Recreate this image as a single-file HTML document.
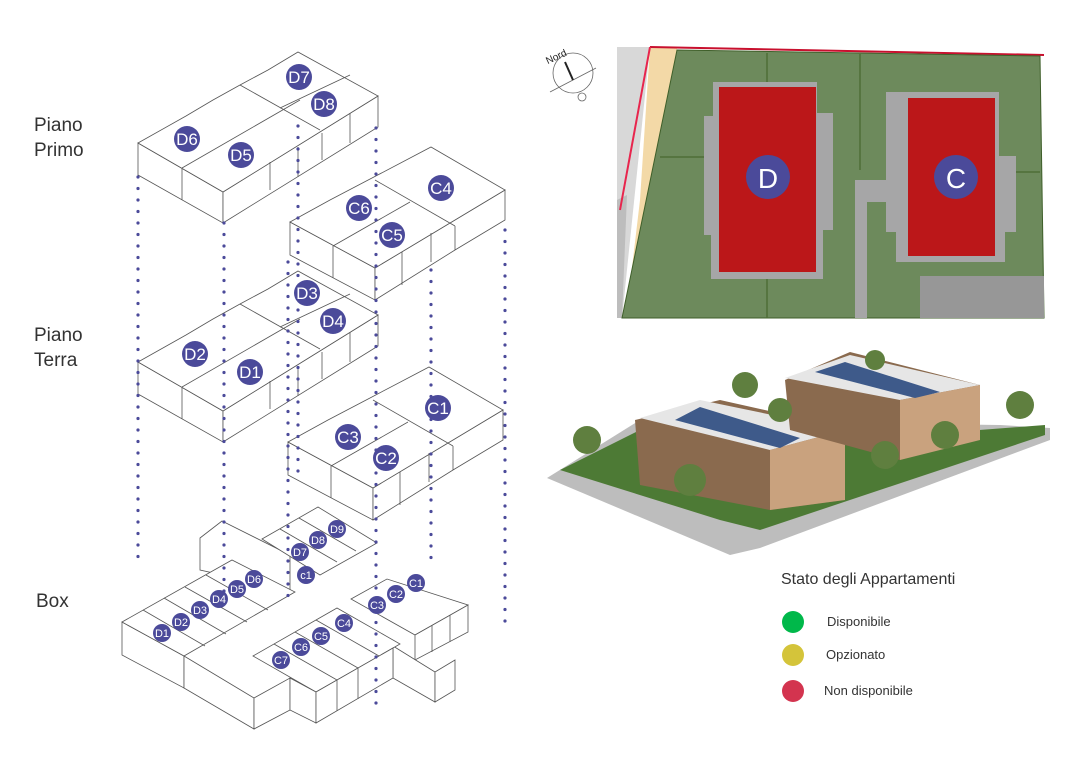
<!DOCTYPE html>
<html><head><meta charset="utf-8"><style>
html,body{margin:0;padding:0;background:#fff;width:1076px;height:780px;overflow:hidden}
svg{display:block}
text{font-family:"Liberation Sans",sans-serif}
</style></head><body>
<svg width="1076" height="780" viewBox="0 0 1076 780" xmlns="http://www.w3.org/2000/svg">
<defs>
<g id="dblock" fill="#fff" stroke="#555" stroke-width="0.8">
  <polygon points="138,143 223,192 223,223 138,175"/>
  <polygon points="223,192 378,96 378,127 223,223"/>
  <polygon points="138,143 186,116 213,100 240,85 268,70 298,52 378,96 223,192"/>
  <line x1="182" y1="168" x2="182" y2="200"/>
  <line x1="182" y1="168" x2="300" y2="100"/>
  <line x1="240" y1="85" x2="320" y2="130"/>
  <line x1="280" y1="108" x2="350" y2="75"/>
  <line x1="350" y1="113" x2="350" y2="143" />
  <line x1="270" y1="162" x2="270" y2="190"/>
  <line x1="298" y1="147" x2="298" y2="177"/>
  <line x1="322" y1="133" x2="322" y2="160"/>
</g>
<g id="cblock" fill="#fff" stroke="#555" stroke-width="0.8">
  <polygon points="290,222 375,268 375,300 290,255"/>
  <polygon points="375,268 505,190 505,220 455,250 375,300"/>
  <polygon points="290,222 330,200 372,178 431,147 505,190 375,268"/>
  <line x1="333" y1="246" x2="333" y2="278"/>
  <line x1="333" y1="246" x2="410" y2="202"/>
  <line x1="375" y1="180" x2="455" y2="226"/>
  <line x1="431" y1="233" x2="431" y2="262"/>
  <line x1="455" y1="226" x2="455" y2="250"/>
  <line x1="402" y1="252" x2="402" y2="285"/>
</g>
</defs>
<use href="#dblock"/>
<use href="#cblock"/>
<use href="#dblock" transform="translate(0,219)"/>
<use href="#cblock" transform="translate(-2,220)"/>
<g fill="#fff" stroke="#555" stroke-width="0.8">
  <polygon points="200,538 222,521 290,555 290,590 200,570"/>
  <polygon points="262,539 318,507 377,543 320,575"/>
  <polygon points="122,622 184,656 184,688 122,655"/>
  <polygon points="184,656 254,698 254,729 184,688"/>
  <polygon points="254,698 290,678 290,710 254,729"/>
  <polygon points="122,622 232,560 295,592 184,656"/>
  <line x1="143" y1="610" x2="205" y2="646"/>
  <line x1="164" y1="598" x2="226" y2="634"/>
  <line x1="185" y1="587" x2="247" y2="622"/>
  <line x1="206" y1="575" x2="268" y2="610"/>
  <line x1="280" y1="529" x2="337" y2="562"/>
  <line x1="299" y1="518" x2="356" y2="551"/>
  <polygon points="351,599 387,579 468,605 415,635"/>
  <polygon points="415,635 468,605 468,632 415,660"/>
  <line x1="432" y1="625" x2="432" y2="652"/>
  <line x1="450" y1="615" x2="450" y2="642"/>
  <polygon points="393,646 435,672 435,702 393,678"/>
  <polygon points="435,672 455,660 455,690 435,702"/>
  <polygon points="253,656 337,608 400,644 316,692"/>
  <polygon points="290,678 316,692 316,723 290,710"/>
  <polygon points="316,692 393,648 393,678 316,723"/>
  <line x1="337" y1="680" x2="337" y2="711"/>
  <line x1="358" y1="668" x2="358" y2="699"/>
  <line x1="274" y1="644" x2="337" y2="680"/>
  <line x1="295" y1="632" x2="358" y2="668"/>
  <line x1="316" y1="620" x2="379" y2="656"/>
</g>
<g stroke="#4b4a9a" stroke-width="3.2" stroke-linecap="round" stroke-dasharray="0 11.5">
<line x1="138" y1="177" x2="138" y2="566"/>
<line x1="224" y1="223" x2="224" y2="602"/>
<line x1="288" y1="262" x2="288" y2="600"/>
<line x1="298" y1="126" x2="298" y2="480"/>
<line x1="376" y1="128" x2="376" y2="706"/>
<line x1="431" y1="270" x2="431" y2="562"/>
<line x1="505" y1="230" x2="505" y2="631"/>
</g>
<g fill="#4b4a9a">
<circle cx="299" cy="77" r="13"/><circle cx="324" cy="104" r="13"/><circle cx="187" cy="139" r="13"/><circle cx="241" cy="155" r="13"/>
<circle cx="441" cy="188" r="13"/><circle cx="359" cy="208" r="13"/><circle cx="392" cy="235" r="13"/>
<circle cx="307" cy="293" r="13"/><circle cx="333" cy="321" r="13"/><circle cx="195" cy="354" r="13"/><circle cx="250" cy="372" r="13"/>
<circle cx="438" cy="408" r="13"/><circle cx="348" cy="437" r="13"/><circle cx="386" cy="458" r="13"/>
</g>
<g fill="#fff" font-size="17" text-anchor="middle">
<text x="299" y="83">D7</text><text x="324" y="110">D8</text><text x="187" y="145">D6</text><text x="241" y="161">D5</text>
<text x="441" y="194">C4</text><text x="359" y="214">C6</text><text x="392" y="241">C5</text>
<text x="307" y="299">D3</text><text x="333" y="327">D4</text><text x="195" y="360">D2</text><text x="250" y="378">D1</text>
<text x="438" y="414">C1</text><text x="348" y="443">C3</text><text x="386" y="464">C2</text>
</g>
<g fill="#4b4a9a">
<circle cx="337" cy="529" r="9"/><circle cx="318" cy="540" r="9"/><circle cx="300" cy="552" r="9"/><circle cx="306" cy="575" r="9"/>
<circle cx="254" cy="579" r="9"/><circle cx="237" cy="589" r="9"/><circle cx="219" cy="599" r="9"/><circle cx="200" cy="610" r="9"/><circle cx="181" cy="622" r="9"/><circle cx="162" cy="633" r="9"/>
<circle cx="416" cy="583" r="9"/><circle cx="396" cy="594" r="9"/><circle cx="377" cy="605" r="9"/>
<circle cx="344" cy="623" r="9"/><circle cx="321" cy="636" r="9"/><circle cx="301" cy="647" r="9"/><circle cx="281" cy="660" r="9"/>
</g>
<g fill="#fff" font-size="11" text-anchor="middle">
<text x="337" y="533">D9</text><text x="318" y="544">D8</text><text x="300" y="556">D7</text><text x="306" y="579">c1</text>
<text x="254" y="583">D6</text><text x="237" y="593">D5</text><text x="219" y="603">D4</text><text x="200" y="614">D3</text><text x="181" y="626">D2</text><text x="162" y="637">D1</text>
<text x="416" y="587">C1</text><text x="396" y="598">C2</text><text x="377" y="609">C3</text>
<text x="344" y="627">C4</text><text x="321" y="640">C5</text><text x="301" y="651">C6</text><text x="281" y="664">C7</text>
</g>
<g fill="#333" font-size="19">
<text x="34" y="131">Piano</text><text x="34" y="156">Primo</text>
<text x="34" y="341">Piano</text><text x="34" y="366">Terra</text>
<text x="36" y="607">Box</text>
</g>
<g stroke="#666" fill="none" stroke-width="0.8">
<circle cx="573" cy="73" r="20"/><line x1="550" y1="92" x2="596" y2="68"/>
<line x1="565" y1="62" x2="573" y2="80" stroke="#222" stroke-width="2"/>
<circle cx="582" cy="97" r="4"/>
</g>
<text x="545" y="60" font-size="10" fill="#222" transform="rotate(-25 556 56)">Nord</text>
<rect x="617" y="46" width="427" height="272" fill="#fff"/>
<polygon points="617,47 650,47 622,318 617,318" fill="#d8d8d8"/>
<polygon points="650,47 677,48 650,318 626,318 640,200" fill="#f3d9a7"/>
<polygon points="617,200 627,195 622,318 617,318" fill="#bdbdbd"/>
<polyline points="650,47 1044,55" stroke="#c8102e" stroke-width="2" fill="none"/>
<polyline points="650,47 620,210" stroke="#e8254d" stroke-width="2" fill="none"/>
<polygon points="677,50 1040,56 1044,318 622,318" fill="#6d8a5c" stroke="#3f5f2a" stroke-width="1"/>
<g stroke="#4f6e36" stroke-width="1.5" fill="none">
<line x1="767" y1="53" x2="767" y2="82"/><line x1="860" y1="54" x2="860" y2="170"/>
<line x1="660" y1="157" x2="704" y2="157"/><line x1="767" y1="279" x2="767" y2="318"/>
<line x1="1000" y1="172" x2="1040" y2="172"/>
</g>
<rect x="920" y="276" width="124" height="42" fill="#979797"/>
<rect x="855" y="180" width="110" height="22" fill="#a6a6a7"/>
<rect x="855" y="180" width="12" height="138" fill="#a6a6a7"/>
<polygon points="713,82 817,82 817,113 833,113 833,230 823,230 823,279 711,279 711,235 704,235 704,116 713,116" fill="#a6a6a7"/>
<rect x="719" y="87" width="97" height="185" fill="#bb1719"/>
<polygon points="886,92 999,92 999,156 1016,156 1016,232 1005,232 1005,262 896,262 896,232 886,232" fill="#a6a6a7"/>
<rect x="908" y="98" width="87" height="158" fill="#bb1719"/>
<circle cx="768" cy="177" r="22" fill="#4b4a9a"/><text x="768" y="188" font-size="28" fill="#fff" text-anchor="middle">D</text>
<circle cx="956" cy="177" r="22" fill="#4b4a9a"/><text x="956" y="188" font-size="28" fill="#fff" text-anchor="middle">C</text>
<polygon points="547,478 640,420 1000,425 1050,428 1050,440 760,548 730,555" fill="#bdbdbd"/>
<polygon points="560,470 650,425 940,433 1045,425 1045,435 760,530 720,520" fill="#4d7a35"/>
<polygon points="635,420 720,400 845,428 845,500 770,510 640,485" fill="#8a6a4e"/>
<polygon points="640,418 700,400 845,430 770,450" fill="#e6e6e6"/>
<polygon points="770,450 845,430 845,500 770,510" fill="#c9a27e"/>
<polygon points="675,420 700,407 800,438 780,448" fill="#3e5a8a"/>
<polygon points="785,380 850,352 980,385 980,435 900,460 790,430" fill="#8a6a4e"/>
<polygon points="785,378 850,355 980,385 900,400" fill="#e6e6e6"/>
<polygon points="900,400 980,385 980,440 900,460" fill="#c9a27e"/>
<polygon points="815,372 845,362 940,392 915,398" fill="#3e5a8a"/>
<g fill="#5f7f3f"><circle cx="587" cy="440" r="14"/><circle cx="745" cy="385" r="13"/><circle cx="780" cy="410" r="12"/><circle cx="1020" cy="405" r="14"/><circle cx="885" cy="455" r="14"/><circle cx="690" cy="480" r="16"/><circle cx="945" cy="435" r="14"/><circle cx="875" cy="360" r="10"/></g>
<text x="781" y="584" font-size="16" fill="#333">Stato degli Appartamenti</text>
<circle cx="793" cy="622" r="11" fill="#00b84a"/><text x="827" y="626" font-size="13" fill="#333">Disponibile</text>
<circle cx="793" cy="655" r="11" fill="#d4c43a"/><text x="826" y="659" font-size="13" fill="#333">Opzionato</text>
<circle cx="793" cy="691" r="11" fill="#d3344f"/><text x="824" y="695" font-size="13" fill="#333">Non disponibile</text>
</svg>
</body></html>
